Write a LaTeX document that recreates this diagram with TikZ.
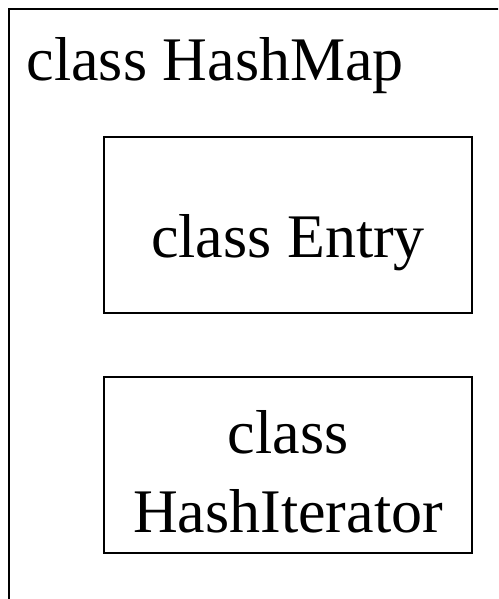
\documentclass[tikz,border=0pt]{standalone}
\usepackage{fontspec}
\setmainfont{Liberation Serif}
\begin{document}
\begin{tikzpicture}[x=1pt,y=-1pt,
  frame/.style={draw=black,line width=1.8pt,rectangle,inner sep=0pt},
  classbox/.style={frame,minimum width=368pt,minimum height=176pt},
  classname/.style={inner sep=0pt,align=center,font=\fontsize{62}{79}\selectfont}]
\useasboundingbox (0,0) rectangle (498,599);
\clip (0,0) rectangle (498,599);
% outer class, running past the page edges
\node[frame,anchor=north west,minimum width=560pt,minimum height=660pt] (hashmap) at (8,8) {};
\node[classname,anchor=base west] (hashmapname) at (26.5,81) {class HashMap};
% nested classes
\node[classbox] (entry) at (288,225) {};
\node[classname,anchor=base] (entryname) at ([yshift=-32pt]entry.center) {class Entry};
\node[classbox] (iter) at (288,465) {};
% the base anchor of a two-line name sits on its last line
\node[classname,anchor=base] (itername) at ([yshift=-67pt]iter.center) {class\\HashIterator};
\end{tikzpicture}
\end{document}
